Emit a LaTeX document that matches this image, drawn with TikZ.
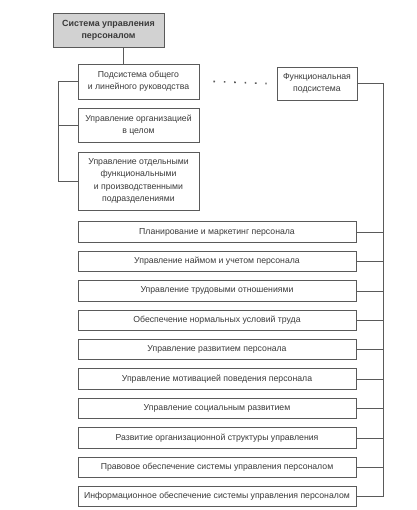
\documentclass[tikz,border=0pt]{standalone}
\usepackage{fontspec}
\setmainfont{Liberation Sans}
\begin{document}
\begin{tikzpicture}[x=1pt,y=-1pt,
  box/.style={draw=linegray, line width=0.8pt, text=textgray, font=\fontsize{8.7}{12.3}\selectfont, align=center, inner sep=0pt, anchor=center},
  conn/.style={draw=linegray, line width=0.6pt}]
\definecolor{linegray}{HTML}{5A5A5A}
\definecolor{textgray}{HTML}{3A3A3A}
\useasboundingbox (0,0) rectangle (416,510);
\node[box, fill=gray!35, font=\bfseries\fontsize{8.9}{12}\selectfont, minimum width=111, minimum height=34] (top) at (108.5,30.5) {Система управления\\персоналом};
\node[box, minimum width=121, minimum height=35] (b2) at (138.5,81.5) {Подсистема общего\\и линейного руководства};
\node[box, minimum width=80, minimum height=33] (f) at (317,83.5) {Функциональная\\подсистема};
\node[box, minimum width=121, minimum height=34] (b3) at (138.5,125) {Управление организацией\\в целом};
\node[box, minimum width=121, minimum height=58] (b4) at (138.5,181) {Управление отдельными\\функциональными\\и производственными\\подразделениями};
\foreach \t [count=\i from 0] in {
  Планирование и маркетинг персонала,
  Управление наймом и учетом персонала,
  Управление трудовыми отношениями,
  Обеспечение нормальных условий труда,
  Управление развитием персонала,
  Управление мотивацией поведения персонала,
  Управление социальным развитием,
  Развитие организационной структуры управления,
  Правовое обеспечение системы управления персоналом,
  Информационное обеспечение системы управления персоналом}{
  \node[box, minimum width=278, minimum height=20.5] (l\i) at (217,232+29.4*\i) {\t};
}
\coordinate (rtop) at (383,83.5);
\coordinate (lbot) at (58,181);
\draw[conn] (top.south -| 123,0) -- (b2.north -| 123,0);
\draw[conn] (b2.west) -- (58,81.5) -- (lbot) -- (b4.west);
\draw[conn] (b3.west) -- (b3.west -| lbot);
\draw[conn] (f.east) -- (rtop) -- (rtop |- l9.east) -- (l9.east);
\foreach \i in {0,...,8}{\draw[conn] (l\i.east) -- (l\i.east -| rtop);}
\draw[linegray, line width=1.6pt, dash pattern=on 1.6pt off 8.8pt] ([xshift=14]b2.east) -- ([xshift=-10]f.west);
\end{tikzpicture}
\end{document}
